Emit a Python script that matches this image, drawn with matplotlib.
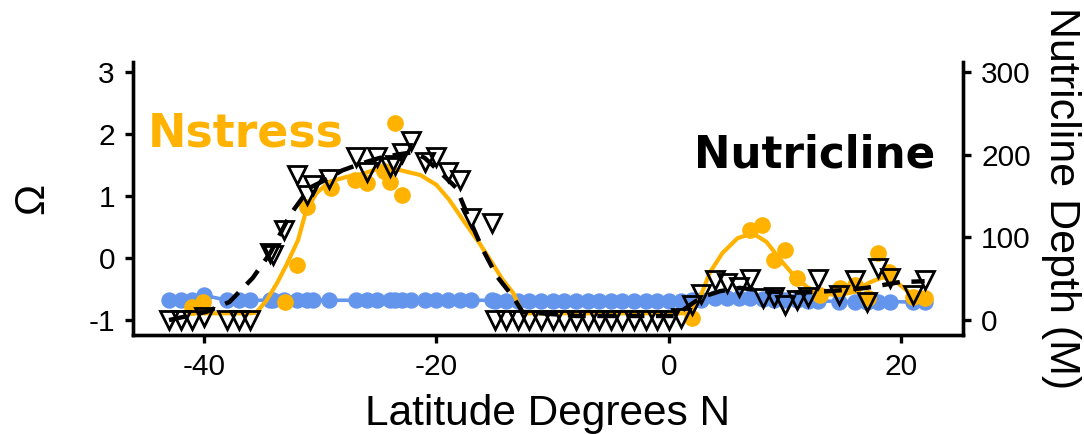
import matplotlib.pyplot as plt
import numpy as np

# station latitudes (shared by nutricline depth and blue omega series)
lat = [-43, -42, -41, -40, -38, -37, -36, -34.3, -34.1, -33.1, -32, -31.1, -30.6, -29.2,
       -26.9, -26, -25.1, -24, -23.6, -23, -22.2, -21, -20, -19, -18, -17, -15.2,
       -15, -14, -13, -12, -11, -10, -9, -8, -7, -6, -5, -4, -3, -2, -1, 0, 1,
       2, 2.8, 4, 5, 6, 7, 8.1, 9, 10, 11, 12, 12.8, 14.6, 16, 17, 18, 19, 21, 22]
depth = [0, 0, 0, 4, 0, 0, 0, 81, 79, 109, 175, 151, 163, 170,
         197, 179, 197, 185, 187, 202, 216, 191, 197, 179, 169, 123, 117,
         0, 0, 0, 0, 0, 0, 0, 0, 0, 0, 0, 0, 0, 0, 0, 0, 2,
         18, 31, 48, 45, 40, 50, 27, 28, 18, 24, 28, 50, 30, 48, 22, 63, 51, 30, 48]
omega = [-0.68, -0.68, -0.68, -0.60, -0.68, -0.68, -0.68, -0.68, -0.68, -0.68, -0.68, -0.68, -0.68, -0.68,
         -0.68, -0.68, -0.68, -0.68, -0.68, -0.68, -0.68, -0.68, -0.68, -0.68, -0.68, -0.68, -0.68,
         -0.69, -0.69, -0.69, -0.69, -0.69, -0.69, -0.69, -0.69, -0.69, -0.69, -0.69, -0.69, -0.69, -0.69, -0.69, -0.69, -0.69,
         -0.68, -0.67, -0.65, -0.65, -0.65, -0.64, -0.66, -0.67, -0.68, -0.68, -0.69, -0.69, -0.70, -0.70, -0.70, -0.70, -0.70, -0.71, -0.71]

# Nstress points
ns_lat = [-41, -40.1, -33, -32, -31.1, -29.1, -27, -26, -24.5, -24, -23.6, -23,
          2, 7, 8, 9, 10, 11, 13, 14.7, 16, 17.1, 18, 18.9, 21, 22]
ns_val = [-0.79, -0.71, -0.71, -0.11, 0.82, 1.13, 1.26, 1.21, 1.40, 1.22, 2.18, 1.02,
          -0.97, 0.45, 0.53, -0.03, 0.13, -0.32, -0.60, -0.48, -0.44, -0.64, 0.08, -0.23, -0.62, -0.65]

# smoothed Nstress curve
ns_fit_lat = [-41, -38, -36, -35.5, -34.6, -33.7, -32.9, -31.9, -31.2, -30.3, -29.2, -27.7, -26.3,
              -25.0, -23.2, -21.4, -20.0, -18.9, -17.7, -16.3, -15.2, -14.3, -13.4, -12.6,
              -8, -4, 0, 1.8, 2.7, 3.5, 4.6, 5.9, 7.2, 8.4, 9.6, 10.7, 11.9, 13.0, 14.5,
              15.8, 17.3, 18.4, 19.6, 20.7, 21.9]
ns_fit = [-0.89, -0.89, -0.89, -0.88, -0.68, -0.40, -0.11, 0.29, 0.77, 1.05, 1.23, 1.31, 1.36,
          1.44, 1.42, 1.34, 1.18, 0.94, 0.61, 0.24, -0.08, -0.35, -0.56, -0.89,
          -0.89, -0.89, -0.89, -0.89, -0.63, -0.24, 0.08, 0.32, 0.40, 0.26, -0.03, -0.27, -0.47, -0.56, -0.60,
          -0.55, -0.39, -0.31, -0.39, -0.56, -0.68]

# smoothed nutricline curve
nc_fit_lat = [-43, -39.8, -37.8, -35.8, -34.3, -32.6, -30.9, -29.2, -28.1, -26.3, -24.9, -23.4,
              -22.0, -21.0, -19.7, -18.3, -17.1, -16.0, -14.8, -13.4, -12.6, -8, -4, 0, 0.7,
              1.2, 2.2, 3.1, 4.4, 6.1, 8.4, 10.4, 12.6, 14.7, 17.0, 19.9, 22.0]
nc_fit = [0, 10, 22, 51, 81, 127, 160, 172, 181, 190, 196, 200,
          203, 196, 179, 160, 120, 85, 53, 28, 10, 5, 5, 5, 5,
          12, 22, 29, 35, 39, 35, 33, 34, 36, 39, 46, 47]

orange = '#FFB300'
blue = '#6495ED'

plt.rcParams['font.family'] = ['Liberation Sans', 'DejaVu Sans']
plt.rcParams['axes.unicode_minus'] = False

fig = plt.figure(figsize=(10.84, 4.34), dpi=100)
ax = fig.add_axes([0.1227, 0.2281, 0.7657, 0.629])

ax.plot(lat, omega, color=blue, lw=2.6, marker='o', ms=10.8, zorder=1)
ax.plot(ns_lat, ns_val, 'o', color=orange, ms=11, zorder=2)
ax.plot(ns_fit_lat, ns_fit, color=orange, lw=3, zorder=3)

ax.set_xlim(-46.1, 25.3)
ax.set_ylim(-1.24, 3.16)
ax.set_xticks([-40, -20, 0, 20])
ax.set_yticks([-1, 0, 1, 2, 3])
ax.set_xlabel('Latitude Degrees N', fontsize=30.5, labelpad=9)
ax.set_ylabel('Ω', fontsize=30, labelpad=26)

ax2 = ax.twinx()
ax2.plot(nc_fit_lat, nc_fit, color='black', lw=3.2, dashes=(4, 2.6))
ax2.plot(lat, depth, 'v', mfc='none', mec='black', mew=2, ms=12.5)
ax2.set_ylim(-18, 312)
ax2.set_yticks([0, 100, 200, 300])
ax2.set_ylabel('Nutricline Depth (M)', fontsize=31, rotation=-90, labelpad=36)

for a in (ax, ax2):
    a.spines['top'].set_visible(False)
    for s in a.spines.values():
        s.set_linewidth(2.4)
    a.tick_params(width=2.4, length=6, labelsize=21.5, pad=7)

ax.text(0.018, 0.689, 'Nstress', transform=ax.transAxes, color=orange, fontsize=33,
        fontweight='bold', family='DejaVu Sans', ha='left', va='baseline')
ax.text(0.966, 0.612, 'Nutricline', transform=ax.transAxes, color='black', fontsize=31.5,
        fontweight='bold', family='DejaVu Sans', ha='right', va='baseline')

fig.savefig('out.png', dpi=100)
